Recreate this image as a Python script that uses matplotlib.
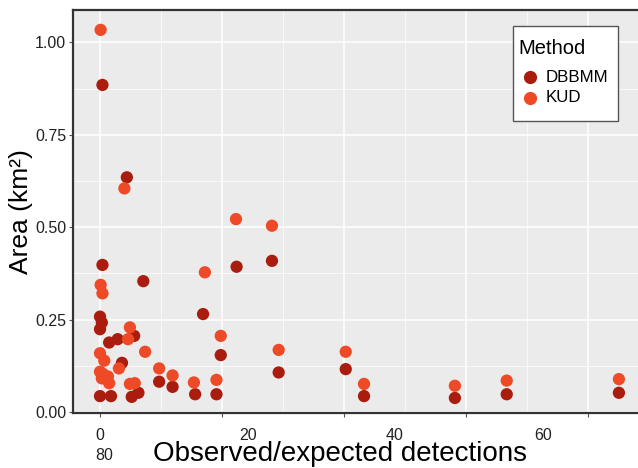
import matplotlib
matplotlib.use("Agg")
import matplotlib.pyplot as plt
from matplotlib.lines import Line2D
from matplotlib.patches import Rectangle

plt.rcParams['font.family'] = ['Liberation Sans', 'DejaVu Sans']

# ---- data ----
dbbmm_x = [0.4, 4.4, 22.4, 28.2, 16.9, 19.8, 29.3, 40.3, 19.1, 43.3, 58.2, 66.7, 85.1,
           11.9, 15.6, 0.4, 7.1, 0.0, 0.3, 0.0, 5.6, 2.9, 1.5, 3.6, 9.7, 0.0, 1.8, 5.2, 6.3]
dbbmm_y = [0.885, 0.635, 0.393, 0.409, 0.265, 0.154, 0.107, 0.116, 0.048, 0.043, 0.038, 0.048, 0.052,
           0.068, 0.048, 0.398, 0.354, 0.258, 0.242, 0.224, 0.206, 0.197, 0.188, 0.133, 0.082, 0.043, 0.043, 0.041, 0.052]

kud_x = [0.1, 4.0, 22.3, 28.2, 17.2, 19.8, 29.3, 40.3, 19.1, 43.3, 58.2, 66.7, 85.1,
         11.9, 15.4, 0.1, 0.4, 4.9, 4.6, 7.4, 0.0, 0.7, 3.1, 9.7, 0.0, 0.5, 1.3, 0.3, 1.5, 4.9, 5.7]
kud_y = [1.034, 0.605, 0.522, 0.504, 0.378, 0.206, 0.168, 0.163, 0.087, 0.076, 0.071, 0.085, 0.089,
         0.099, 0.080, 0.344, 0.321, 0.229, 0.197, 0.163, 0.159, 0.139, 0.118, 0.118, 0.109, 0.103, 0.096, 0.091, 0.078, 0.076, 0.078]

methods = ["DBBMM", "KUD"]
colors = ["#A91C0E", "#EE4A27"]

x_major = [0, 20, 40, 60, 80]
x_minor = [10, 30, 50, 70]
x_tick_labels = ["0", "20", "40", "60", "80"]
y_major = [0.0, 0.25, 0.5, 0.75, 1.0]
y_minor = [0.125, 0.375, 0.625, 0.875]
y_tick_labels = ["0.00", "0.25", "0.50", "0.75", "1.00"]

W, H = 638, 468
fig = plt.figure(figsize=(W / 100, H / 100), dpi=100)

def fx(px):
    return px / W

def fy(py):
    return 1 - py / H

ax = fig.add_axes([fx(73), fy(413), fx(650) - fx(73), fy(10) - fy(413)])
ax.set_facecolor("#EBEBEB")
ax.set_xlim(-4.43, 90.2)
ax.set_ylim(-0.0027, 1.0877)

ax.set_xticks(x_major)
ax.set_xticks(x_minor, minor=True)
ax.set_yticks(y_major)
ax.set_yticks(y_minor, minor=True)
ax.set_xticklabels([])
ax.set_yticklabels(y_tick_labels)
ax.grid(which="major", color="white", linewidth=1.1)
ax.grid(which="minor", color="white", linewidth=0.5)
ax.set_axisbelow(True)
ax.tick_params(axis="both", which="major", length=3, width=0.8, color="#555555",
               labelsize=11.5, labelcolor="#222222", pad=2)
ax.tick_params(axis="both", which="minor", length=0)

for s in ["left", "bottom", "top"]:
    ax.spines[s].set_color("#333333")
    ax.spines[s].set_linewidth(1.6)
ax.spines["right"].set_visible(False)

ax.scatter(dbbmm_x, dbbmm_y, s=78, color=colors[0], edgecolors="none", zorder=3)
ax.scatter(kud_x, kud_y, s=78, color=colors[1], edgecolors="none", zorder=3)

# x tick labels as laid out in the reference
label_px = [(100, 435), (248, 435), (395, 435), (543, 435), (104, 455)]
for lab, (px, py) in zip(x_tick_labels, label_px):
    fig.text(fx(px), fy(py), lab, ha="center", va="center", fontsize=11.5, color="#222222")

fig.text(fx(340), fy(454), "Observed/expected detections", ha="center", va="center",
         fontsize=20, color="black")
fig.text(fx(21), fy(212), "Area (km²)", ha="center", va="center", rotation=90,
         fontsize=19, color="black")

# legend drawn as a box with keys
fig.add_artist(Rectangle((fx(513), fy(121)), fx(618) - fx(513), fy(26) - fy(121),
                         transform=fig.transFigure, facecolor="white",
                         edgecolor="#555555", linewidth=1.0, zorder=10))
fig.text(fx(518), fy(48), "Method", ha="left", va="center", fontsize=14.5,
         color="black", zorder=11)
key_y = [77, 98]
for m, c, ky in zip(methods, colors, key_y):
    fig.add_artist(Line2D([fx(530)], [fy(ky)], transform=fig.transFigure, marker="o",
                          linestyle="none", markersize=9.5, markerfacecolor=c,
                          markeredgecolor="none", zorder=11))
    fig.text(fx(546), fy(ky), m, ha="left", va="center", fontsize=12.2,
             color="black", zorder=11)

fig.savefig("out.png", dpi=100)
